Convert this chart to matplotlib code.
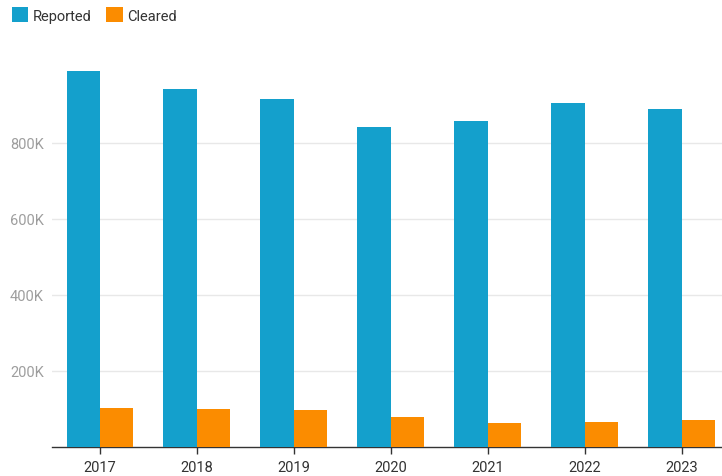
import matplotlib.pyplot as plt
import numpy as np

# values
years = ['2017', '2018', '2019', '2020', '2021', '2022', '2023']
reported = [989000, 942000, 916000, 841000, 858000, 904000, 890000]
cleared = [102000, 98000, 96000, 77000, 62000, 64500, 69000]
yticks = [200000, 400000, 600000, 800000]
ytick_labels = ['200K', '400K', '600K', '800K']

blue = '#14a0cc'
orange = '#fb8c00'

plt.rcParams['font.family'] = ['Roboto', 'DejaVu Sans']

W, H = 722, 477
fig = plt.figure(figsize=(W / 100, H / 100), dpi=100)
# axes runs a bit past the right edge of the figure, like the original
left, right, top, bottom = 52, 730, 68, 447.5
ax = fig.add_axes([left / W, (H - bottom) / H, (right - left) / W, (bottom - top) / H])

x = np.arange(len(years))
w = 0.345
ax.bar(x - w / 2, reported, w, color=blue, label='Reported', zorder=3)
ax.bar(x + w / 2, cleared, w, color=orange, label='Cleared', zorder=3)

ax.set_xlim(-0.495, 6.5)
ax.set_ylim(0, 1000000)
ax.set_xticks(x)
ax.set_xticklabels(years, fontsize=10.5, color='#333333')
ax.set_yticks(yticks)
ax.set_yticklabels(ytick_labels, fontsize=10.5, color='#9e9e9e')
ax.tick_params(axis='y', length=0, pad=6)
ax.tick_params(axis='x', length=5, width=1, color='#333333', pad=5)
ax.grid(axis='y', color='#e8e8e8', linewidth=1, zorder=0)
for s in ['top', 'right', 'left']:
    ax.spines[s].set_visible(False)
ax.spines['bottom'].set_color('#333333')
ax.spines['bottom'].set_linewidth(1)

fig.legend(loc='upper left', bbox_to_anchor=(-0.002, 1.01), ncol=2, frameon=False,
           fontsize=10.5, handlelength=1.15, handleheight=1.15, handletextpad=0.3,
           columnspacing=1.0, labelcolor='#333333')

fig.savefig('out.png', dpi=100)
